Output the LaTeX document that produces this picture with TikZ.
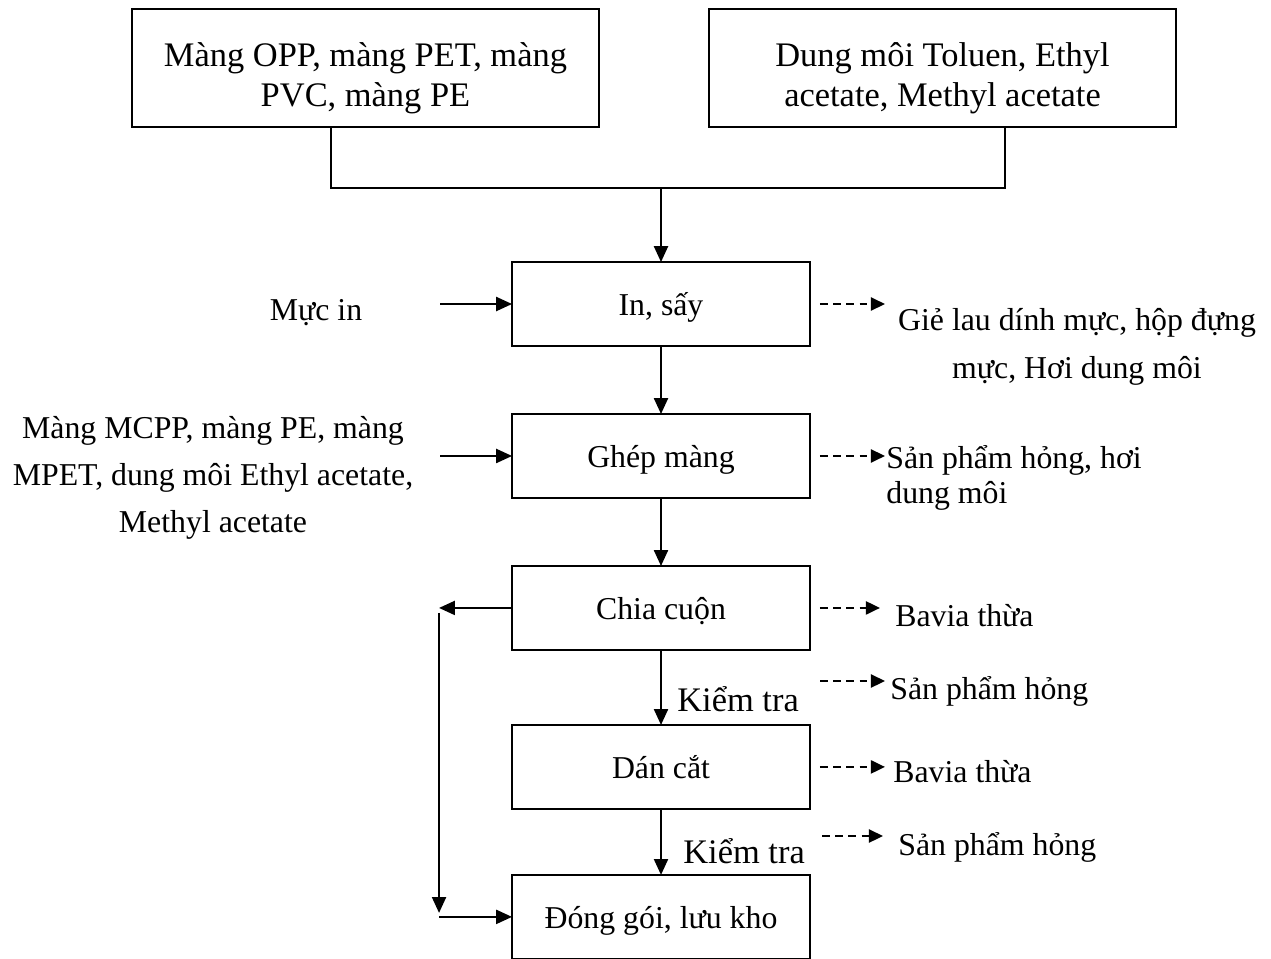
\documentclass[tikz,border=0pt]{standalone}
\usepackage{fontspec}
\setmainfont{Liberation Serif}
\usepackage{tikz}
\usetikzlibrary{positioning, calc, arrows.meta}
\newcommand\boxfont{\fontsize{18.1}{20.8}\selectfont}
\newcommand\bigfont{\fontsize{19.6}{22.7}\selectfont}
\newcommand\topline{\rule{0pt}{25.7pt}}
\newcommand\botline{\rule[-4.5pt]{0pt}{4.5pt}}
\tikzstyle{SrcBox} = [
draw,
line width=1pt,
outer sep=0pt,
minimum width=9.34cm,
minimum height=2.36cm,
align=center,
font=\bigfont]
\tikzstyle{StepBox} = [
draw,
line width=1pt,
outer sep=0pt,
minimum width=5.96cm,
minimum height=1.68cm,
text height=18.1pt,
text depth=4.5pt,
font=\boxfont]
\tikzstyle{SideText} = [
inner sep=0pt,
font=\boxfont]
\tikzstyle{Arrow} = [
line width=1pt,
-{Triangle[length=9pt, width=8pt]}]
\tikzstyle{ArrowDash} = [
line width=1pt,
dash pattern=on 4.5pt off 3pt,
-{Triangle[length=8pt, width=7.5pt]}]

\begin{document}
\begin{tikzpicture}[x=0.02cm, y=-0.02cm]
    \useasboundingbox (0,0) rectangle (1271,958);
    \clip (0,0) rectangle (1271,958);

    % inputs
    \node [SrcBox] (film) at (365.5,68) {\topline Màng OPP, màng PET, màng\\PVC, màng PE\botline};
    \node [SrcBox] (solvent) at (942.5,68) {\topline Dung môi Toluen, Ethyl\\acetate, Methyl acetate\botline};

    % main line
    \node [StepBox] (in) at (661,304) {In, sấy};
    \node [StepBox, below=1.36cm of in] (ghep) {Ghép màng};
    \node [StepBox, below=1.36cm of ghep] (chia) {Chia cuộn};
    \node [StepBox, below=1.5cm of chia] (dan) {Dán cắt};
    \node [StepBox, below=1.32cm of dan] (dong) {Đóng gói, lưu kho};

    % side texts
    \node [SideText] (ink) at (316,313) {Mực in};
    \node [SideText, align=center, font=\fontsize{18.1}{26.6}\selectfont] (mcpp) at (213,478)
        {Màng MCPP, màng PE, màng\\MPET, dung môi Ethyl acetate,\\Methyl acetate};
    \node [SideText, align=center, font=\fontsize{18.1}{27.2}\selectfont] (rag) at (1077,347)
        {Giẻ lau dính mực, hộp đựng\\mực, Hơi dung môi};
    \node [SideText, align=left, anchor=west, font=\fontsize{18.1}{19.8}\selectfont] (waste1) at (886,478)
        {Sản phẩm hỏng, hơi\\dung môi};
    \node [SideText, anchor=west] (bavia1) at (895,616) {Bavia thừa};
    \node [SideText, anchor=west] (broken1) at (890,691) {Sản phẩm hỏng};
    \node [SideText, anchor=west] (bavia2) at (893,772) {Bavia thừa};
    \node [SideText, anchor=west] (broken2) at (898,847) {Sản phẩm hỏng};
    \node [SideText, anchor=west, font=\bigfont] (check1) at (677,699) {Kiểm tra};
    \node [SideText, anchor=west, font=\bigfont] (check2) at (683,851) {Kiểm tra};

    \coordinate [above=1.48cm of in.north] (merge);
    \coordinate (bk1) at ([xshift=-1.46cm]chia.west);
    \coordinate (bk2) at ([xshift=-1.46cm]dong.west);
    \coordinate (d1) at (820,681);
    \coordinate (d2) at (822,836);

    \draw[line width=1pt] ([xshift=-0.69cm]film.south) |- (merge) -| ([xshift=1.25cm]solvent.south);
    \draw[Arrow] (merge) -- (in.north);
    \draw[Arrow] ([xshift=-1.44cm]in.west) -- (in.west);
    \draw[Arrow] ([xshift=-1.44cm]ghep.west) -- (ghep.west);
    \draw[Arrow] (in) -- (ghep);
    \draw[Arrow] (ghep) -- (chia);
    \draw[Arrow] (chia) -- (dan);
    \draw[Arrow] (dan) -- (dong);
    \draw[Arrow] (chia.west) -- (bk1);
    \draw[Arrow] ([yshift=-0.1cm]bk1) -- ([yshift=0.08cm]bk2);
    \draw[Arrow] (bk2) -- (dong.west);

    \draw[ArrowDash] ([xshift=0.2cm]in.east) -- ++(1.3cm,0);
    \draw[ArrowDash] ([xshift=0.2cm]ghep.east) -- ++(1.3cm,0);
    \draw[ArrowDash] ([xshift=0.2cm]chia.east) -- ++(1.2cm,0);
    \draw[ArrowDash] (d1) -- ++(1.3cm,0);
    \draw[ArrowDash] ([xshift=0.2cm]dan.east) -- ++(1.3cm,0);
    \draw[ArrowDash] (d2) -- ++(1.22cm,0);
\end{tikzpicture}
\end{document}
